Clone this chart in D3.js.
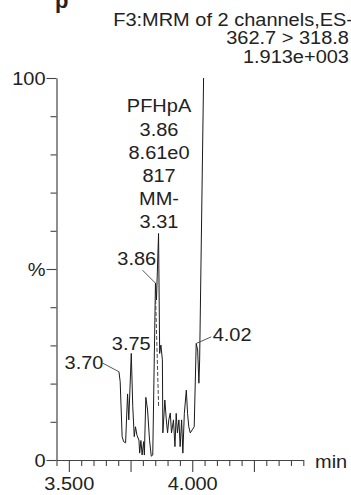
<!DOCTYPE html>
<html>
<head>
<meta charset="utf-8">
<script src="https://cdn.jsdelivr.net/npm/d3@7"></script>
<style>
html,body{margin:0;padding:0;background:#fff;}
svg{display:block;}
text{font-family:"Liberation Sans",Arial,Helvetica,sans-serif;fill:#222;}
</style>
</head>
<body>
<svg id="c" width="351" height="495"></svg>
<script>
// ---- data ----
const times = [3.703,3.708,3.716,3.722,3.730,3.738,3.743,3.753,3.759,3.765,3.770,3.776,3.784,3.787,3.792,3.797,3.803,3.806,3.812,3.819,3.827,3.834,3.840,3.851,3.855,3.8635,3.868,3.873,3.879,3.881,3.889,3.895,3.900,3.905,3.911,3.916,3.924,3.930,3.935,3.940,3.946,3.951,3.957,3.962,3.968,3.976,3.981,3.986,3.992,4.000,4.008,4.016,4.022,4.027,4.030,4.046];
const intensity = [23.1,20.5,6.1,4.8,4.5,17.3,10.5,27.9,14.0,6.1,8.7,6.5,5.2,1.8,5.1,1.3,4.8,1.3,16.4,13.1,5.2,1.0,1.3,46.3,41.9,59.3,27.9,30.1,26.2,7.1,15.7,10.5,7.1,10.5,12.3,7.1,10.5,3.5,12.2,7.1,10.5,3.5,10.5,1.8,12.2,18.3,12.2,8.7,7.1,7.9,8.7,30.5,28.8,20.1,26.2,100];
const dashTimes = [3.8517, 3.8639];
const dashValues = [41.9, 13.6];
const peakTimes = [3.703, 3.753, 3.851, 4.016];
const peakValues = [23.1, 27.9, 46.3, 30.5];
const peakLabels = ["3.70", "3.75", "3.86", "4.02"];
const apexTime = 3.8635, apexValue = 59.3;
const apexLines = ["PFHpA", "3.86", "8.61e0", "817", "MM-", "3.31"];
const headerLines = ["F3:MRM of 2 channels,ES-", "362.7 > 318.8", "1.913e+003"];
const xTicks = d3.range(0, 21).map(i => +(3.45 + i * 0.05).toFixed(2));
const xMajor = [3.5, 3.75, 4.0, 4.25];
const xLabels = {3.5: "3.500", 4.0: "4.000"};
const yTicks = d3.range(0, 101, 10);
const yLabels = {0: "0", 50: "%", 100: "100"};
const xUnit = "min";

// ---- drawing ----
const svg = d3.select("#c");
const FS = 18.5, SX = 1.08;
const x = d3.scaleLinear().domain([3.45, 4.45]).range([56.5, 303.3]);
const y = d3.scaleLinear().domain([0, 100]).range([460, 78]);

function stretch(sel, sx) {
  sel.each(function () {
    const t = d3.select(this);
    const x0 = +(t.attr("x") || 0);
    t.attr("transform", `translate(${x0 * (1 - sx)},0) scale(${sx},1)`);
  });
}

// cut-off title fragment at top-left
svg.append("text").attr("x", 55).attr("y", 8).attr("font-size", 22)
  .attr("font-weight", "bold").text("p");

// header
const hdr = svg.append("g");
headerLines.forEach((s, i) => {
  hdr.append("text").attr("x", i === 0 ? 353 : 349).attr("y", 26 + i * 18.3)
    .attr("text-anchor", "end").attr("font-size", FS).text(s);
});
stretch(hdr.selectAll("text"), SX);

// x axis
const xAxis = d3.axisBottom(x).tickValues(xTicks).tickSizeOuter(0)
  .tickFormat(d => xLabels[d] || "");
const gx = svg.append("g").attr("transform", `translate(0,${y(0)})`).call(xAxis);
gx.select(".domain").attr("stroke", "#444").attr("stroke-width", 1.2);
gx.selectAll(".tick line").attr("stroke", "#444").attr("stroke-width", 1.1)
  .attr("y2", d => xMajor.some(m => Math.abs(m - d) < 1e-6) ? 12 : 6);
gx.selectAll(".tick text").attr("font-size", FS).attr("fill", "#222")
  .attr("font-family", null).attr("y", 30.5).attr("dy", 0);
stretch(gx.selectAll(".tick text"), SX);
svg.append("text").attr("x", 315).attr("y", 468).attr("font-size", FS).text(xUnit)
  .call(s => stretch(s, SX));

// y axis
const yAxis = d3.axisLeft(y).tickValues(yTicks).tickSizeOuter(0)
  .tickFormat(d => yLabels[d] || "");
const gy = svg.append("g").attr("transform", `translate(${x(3.45)},0)`).call(yAxis);
gy.select(".domain").attr("stroke", "#444").attr("stroke-width", 1.2);
gy.selectAll(".tick line").attr("stroke", "#444").attr("stroke-width", 1.1)
  .attr("x2", d => (d % 50 === 0) ? -10 : -6);
gy.selectAll(".tick text").attr("font-size", FS).attr("fill", "#222")
  .attr("font-family", null).attr("x", -11).attr("dy", "0.36em");
stretch(gy.selectAll(".tick text"), SX);

// trace
const pts = times.map((t, i) => [t, intensity[i]]);
const line = d3.line().x(d => x(d[0])).y(d => y(d[1]));
svg.append("path").datum(pts).attr("d", line)
  .attr("fill", "none").attr("stroke", "#1a1a1a").attr("stroke-width", 1)
  .attr("stroke-linejoin", "miter");

// dashed integration line
svg.append("path").datum(dashTimes.map((t, i) => [t, dashValues[i]])).attr("d", line)
  .attr("fill", "none").attr("stroke", "#444").attr("stroke-width", 1)
  .attr("stroke-dasharray", "4,2");

// peak labels
const lab = svg.append("g");
const leader = (x1, y1, x2, y2) => svg.append("line").attr("x1", x1).attr("y1", y1)
  .attr("x2", x2).attr("y2", y2).attr("stroke", "#444").attr("stroke-width", 0.9);
peakTimes.forEach((t, i) => {
  const px = x(t), py = y(peakValues[i]);
  let tx, ty, anchor;
  if (i === 0) { tx = px - 15.5; ty = py - 3; anchor = "end"; leader(px - 16, py - 8.5, px, py); }
  else if (i === 1) { tx = px; ty = py - 3; anchor = "middle"; }
  else if (i === 2) { tx = px + 0.7; ty = py - 18; anchor = "end"; leader(px - 13, py - 13, px, py); }
  else { tx = px + 16.5; ty = py - 2.6; anchor = "start"; leader(px + 15, py - 6.6, px, py); }
  lab.append("text").attr("x", tx).attr("y", ty).attr("text-anchor", anchor)
    .attr("font-size", FS).text(peakLabels[i]);
});
// apex annotation block
const ax = x(apexTime) + 0.5, ay = y(apexValue);
apexLines.forEach((s, i) => {
  lab.append("text").attr("x", ax).attr("y", ay - 5 - (apexLines.length - 1 - i) * 23.2)
    .attr("text-anchor", "middle").attr("font-size", FS).text(s);
});
stretch(lab.selectAll("text"), SX);
</script>
</body>
</html>
